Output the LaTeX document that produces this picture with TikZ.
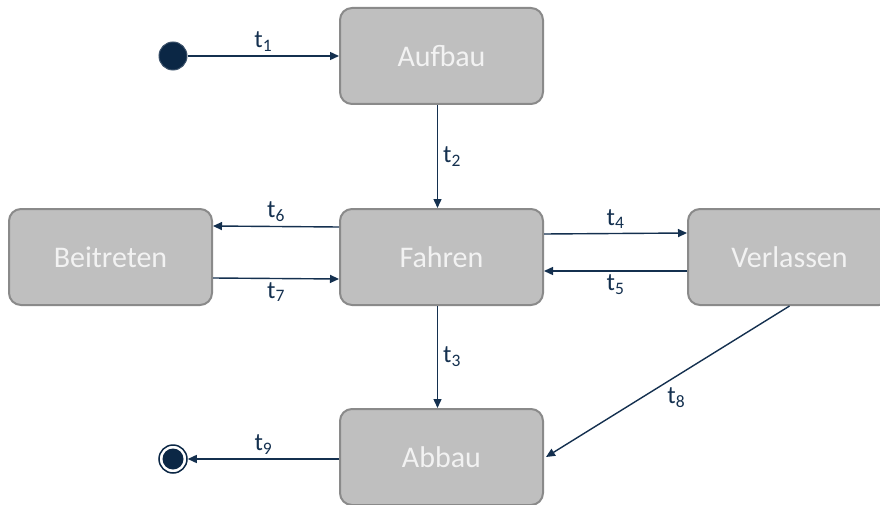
\documentclass[tikz,border=0pt]{standalone}
\usepackage{fontspec}
\setmainfont{Carlito}
\usetikzlibrary{arrows.meta,calc}
\definecolor{boxfill}{HTML}{BFBFBF}
\definecolor{boxline}{HTML}{8A8A8A}
\definecolor{navy}{HTML}{14304F}
\definecolor{dot}{HTML}{0B2745}
\newcommand\tlab[1]{t\textsubscript{#1}}
\tikzset{
  state/.style={draw=boxline, fill=boxfill, line width=2pt, rounded corners=12pt,
    minimum width=203pt, minimum height=96pt, text=white!95!black,
    font=\fontsize{30}{36}\selectfont},
  trans/.style={draw=navy, line width=1.4pt, -{Triangle[length=9pt,width=8pt]}},
  lbl/.style={text=navy, font=\fontsize{25}{30}\selectfont, inner sep=0pt}
}
\begin{document}
\begin{tikzpicture}[x=1pt,y=-1pt]
\clip (0,0) rectangle (880,505);
\useasboundingbox (0,0) rectangle (880,505);

\node[state] (aufbau)    at (441.5,56)  {Aufbau};
\node[state] (fahren)    at (441.5,257) {Fahren};
\node[state] (beitreten) at (110.5,257) {Beitreten};
\node[state] (verlassen) at (789.5,257) {Verlassen};
\node[state] (abbau)     at (441.5,457) {Abbau};

% initial and final pseudo-states
\node[circle, fill=dot, draw=dot!80!white, line width=1pt, minimum size=28pt, inner sep=0pt] (init) at (173,56) {};
\node[circle, draw=dot, fill=white, line width=1.5pt, minimum size=28pt, inner sep=0pt] (final) at (173,459) {};
\node[circle, fill=dot, minimum size=21pt, inner sep=0pt] (finalcore) at (173,459) {};

% transitions
\draw[trans] (init) -- (aufbau.west |- init) node[lbl, midway, above=4pt] {\tlab{1}};
\draw[trans] ($(aufbau.south)+(-4,0)$) -- ($(fahren.north)+(-4,0)$) node[lbl, midway, right=5pt] {\tlab{2}};
\draw[trans] ($(fahren.west)+(0,-30)$) -- ($(beitreten.east)+(0,-31)$) node[lbl, midway, above=4pt] {\tlab{6}};
\draw[trans] ($(beitreten.east)+(0,21)$) -- ($(fahren.west)+(0,22)$) node[lbl, midway, below=3pt] {\tlab{7}};
\draw[trans] ($(fahren.east)+(0,-23)$) -- ($(verlassen.west)+(0,-24)$) node[lbl, midway, above=4pt] {\tlab{4}};
\draw[trans] ($(verlassen.west)+(0,14)$) -- ($(fahren.east)+(0,14)$) node[lbl, midway, below=3pt] {\tlab{5}};
\draw[trans] ($(fahren.south)+(-4,0)$) -- ($(abbau.north)+(-4,0)$) node[lbl, midway, right=5pt] {\tlab{3}};
\draw[trans] (verlassen.south) -- ($(abbau.east)+(2,0)$) node[lbl, pos=0.465, below=11pt] {\tlab{8}};
\draw[trans] (abbau.west |- final) -- (final) node[lbl, midway, above=4pt] {\tlab{9}};
\end{tikzpicture}
\end{document}
